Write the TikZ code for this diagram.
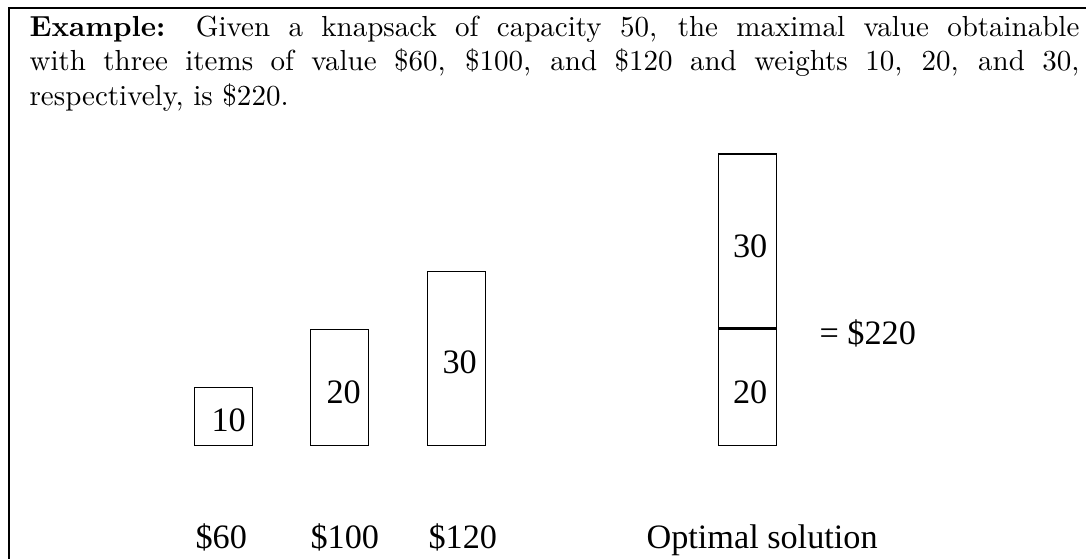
\documentclass[tikz,border=0pt]{standalone}
\usepackage{fontspec}
\newfontfamily\timesf{Liberation Serif}
\begin{document}
\begin{tikzpicture}[x=0.3448pt,y=-0.3448pt,
  box/.style={draw, line width=0.5pt, inner sep=0pt, minimum width=20pt},
  num/.style={font=\timesf\fontsize{11.8}{14}\selectfont, anchor=base west, inner sep=0pt},
  para/.style={font=\fontsize{10}{12}\selectfont, anchor=north west, inner sep=0pt, text width=362pt, align=justify}]
\useasboundingbox (0,0) rectangle (1086,559);
\coordinate (fbl) at (9,560);
\coordinate (ftl) at (9,8);
\coordinate (ftr) at (1087,8);
\draw[line width=0.7pt] (fbl) -- (ftl) -- (ftr);
\node[para] (txt) at (29,15) {\hyphenpenalty=10000\textbf{Example:} Given a knapsack of capacity 50, the maximal value obtainable\linebreak with three items of value \$60, \$100, and \$120 and weights 10, 20, and 30,\linebreak respectively, is \$220.};
% items
\node[box, anchor=south west, minimum height=20pt] (b10) at (194,446) {};
\node[box, anchor=south west, minimum height=40pt] (b20) at (310,446) {};
\node[box, anchor=south west, minimum height=60pt] (b30) at (427,446) {};
\node[num] (t10) at (211,431.5) {10};
\node[num] (t20) at (326,403.5) {20};
\node[num] (t30) at (442,373.5) {30};
% optimal stack
\node[box, anchor=south west, minimum height=40pt] (s20) at (717.5,446) {};
\node[box, anchor=south west, minimum height=60pt] (s30) at (s20.north west) {};
\node[num] (u20) at (732.5,403.5) {20};
\node[num] (u30) at (732.5,257.5) {30};
\node[num] (sum) at (819,345) {= \$220};
% labels
\node[num] (l60) at (195,549) {\$60};
\node[num] (l100) at (310,549) {\$100};
\node[num] (l120) at (428,549) {\$120};
\node[num] (lopt) at (646,549) {Optimal solution};
\end{tikzpicture}
\end{document}
